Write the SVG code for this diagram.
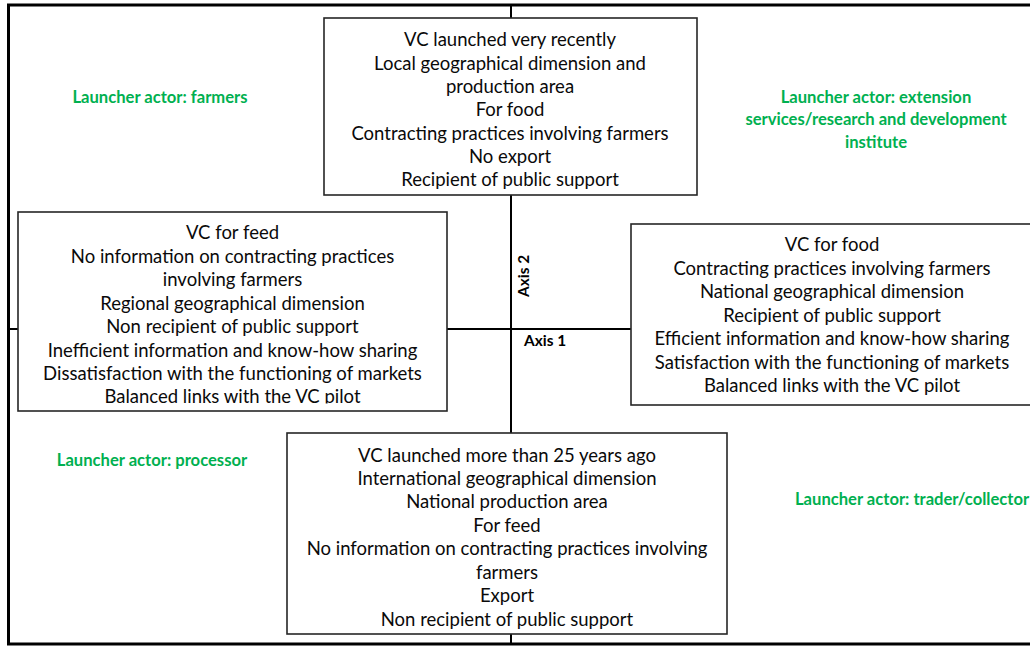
<svg xmlns="http://www.w3.org/2000/svg" width="1030" height="646" viewBox="0 0 1030 646">
  <style>
    .box { fill: #ffffff; stroke: #262626; stroke-width: 1.6; }
    .axis { stroke: #000000; stroke-width: 2; fill: none; }
    .frame { stroke: #000000; stroke-width: 3; fill: none; }
    .txt { font-family: Lato, "Liberation Sans", sans-serif; font-size: 18.5px; fill: #0a0a0a; text-anchor: middle; }
    .actor { font-family: Lato, "Liberation Sans", sans-serif; font-size: 16.6px; font-weight: bold; fill: #00b050; text-anchor: middle; }
    .axlbl { font-family: Lato, "Liberation Sans", sans-serif; font-size: 15.4px; font-weight: bold; fill: #000000; }
  </style>
  <defs>
    <!-- last line of the left box is cut off at its descenders -->
    <clipPath id="clipLeft"><rect x="18" y="212" width="429" height="191.5"/></clipPath>
  </defs>
  <rect width="1030" height="646" fill="#ffffff"/>

  <!-- outer frame (right side runs off the page) -->
  <path class="frame" d="M1032 5 H8.5 V644 H1032"/>

  <!-- axes -->
  <g id="connectors">
    <line class="axis" x1="511" y1="5" x2="511" y2="644"/>
    <line class="axis" x1="8" y1="329" x2="1030" y2="329"/>
  </g>

  <text class="axlbl" transform="translate(528.5,297) rotate(-90)">Axis 2</text>
  <text class="axlbl" x="524" y="346">Axis 1</text>

  <!-- launcher actor labels -->
  <g id="actor-farmers"><text class="actor" x="160" y="102.5">Launcher actor: farmers</text></g>
  <g id="actor-extension">
    <text class="actor" x="876" y="102.5">Launcher actor: extension</text>
    <text class="actor" x="876" y="125">services/research and development</text>
    <text class="actor" x="876" y="147.5">institute</text>
  </g>
  <g id="actor-processor"><text class="actor" x="152" y="465.5">Launcher actor: processor</text></g>
  <g id="actor-trader"><text class="actor" x="795" y="504.5" style="text-anchor:start">Launcher actor: trader/collector</text></g>

  <!-- top box -->
  <g id="box-top">
    <rect class="box" x="324" y="18" width="373" height="177"/>
    <text class="txt" x="510" y="46">VC launched very recently</text>
    <text class="txt" x="510" y="69.5">Local geographical dimension and</text>
    <text class="txt" x="510" y="93">production area</text>
    <text class="txt" x="510" y="116">For food</text>
    <text class="txt" x="510" y="139.5">Contracting practices involving farmers</text>
    <text class="txt" x="510" y="163">No export</text>
    <text class="txt" x="510" y="186">Recipient of public support</text>
  </g>

  <!-- left box -->
  <g id="box-left">
    <rect class="box" x="18" y="212" width="429" height="199"/>
    <g clip-path="url(#clipLeft)">
      <text class="txt" x="232.5" y="239">VC for feed</text>
      <text class="txt" x="232.5" y="263">No information on contracting practices</text>
      <text class="txt" x="232.5" y="286">involving farmers</text>
      <text class="txt" x="232.5" y="310">Regional geographical dimension</text>
      <text class="txt" x="232.5" y="333">Non recipient of public support</text>
      <text class="txt" x="232.5" y="357">Inefficient information and know-how sharing</text>
      <text class="txt" x="232.5" y="380">Dissatisfaction with the functioning of markets</text>
      <text class="txt" x="232.5" y="403">Balanced links with the VC pilot</text>
    </g>
  </g>

  <!-- right box (runs off the page) -->
  <g id="box-right">
    <rect class="box" x="631" y="224" width="420" height="181"/>
    <text class="txt" x="832" y="251">VC for food</text>
    <text class="txt" x="832" y="275">Contracting practices involving farmers</text>
    <text class="txt" x="832" y="298">National geographical dimension</text>
    <text class="txt" x="832" y="322">Recipient of public support</text>
    <text class="txt" x="832" y="345">Efficient information and know-how sharing</text>
    <text class="txt" x="832" y="369">Satisfaction with the functioning of markets</text>
    <text class="txt" x="832" y="392">Balanced links with the VC pilot</text>
  </g>

  <!-- bottom box -->
  <g id="box-bottom">
    <rect class="box" x="287" y="433" width="440" height="201"/>
    <text class="txt" x="507" y="462">VC launched more than 25 years ago</text>
    <text class="txt" x="507" y="485">International geographical dimension</text>
    <text class="txt" x="507" y="508">National production area</text>
    <text class="txt" x="507" y="532">For feed</text>
    <text class="txt" x="507" y="555">No information on contracting practices involving</text>
    <text class="txt" x="507" y="579">farmers</text>
    <text class="txt" x="507" y="602">Export</text>
    <text class="txt" x="507" y="626">Non recipient of public support</text>
  </g>
</svg>
